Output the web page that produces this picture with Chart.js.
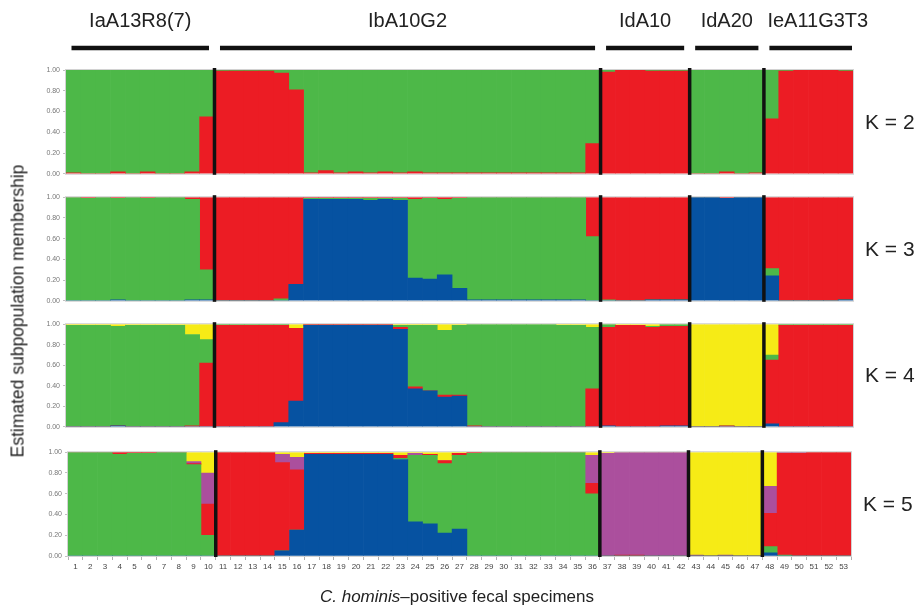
<!DOCTYPE html>
<html><head><meta charset="utf-8">
<script src="https://cdn.jsdelivr.net/npm/chart.js@4.4.1/dist/chart.umd.min.js"></script>
<style>
html,body{margin:0;padding:0;background:#fff;}
#wrap{position:relative;width:917px;height:609px;overflow:hidden;font-family:"Liberation Sans",Arial,sans-serif;background:#fff;}
#wrap canvas{position:absolute;left:0;}
#ytitle{position:absolute;left:18px;top:311px;transform:translate(-50%,-50%) rotate(-90deg);white-space:nowrap;font-size:17.5px;color:#222;}
#xtitle{position:absolute;left:457px;top:597px;transform:translate(-50%,-50%);white-space:nowrap;font-size:17px;color:#222;}
</style></head>
<body>
<div id="wrap">
  <canvas id="c0"></canvas><canvas id="c1"></canvas><canvas id="c2"></canvas><canvas id="c3"></canvas>
  <div id="ytitle">Estimated subpopulation membership</div>
  <div id="xtitle"><i>C. hominis</i>–positive fecal specimens</div>
</div>
<script>
// ---------- DATA ----------
const specimens = ['1','2','3','4','5','6','7','8','9','10','11','12','13','14','15','16','17','18','19','20','21','22','23','24','25','26','27','28','29','30','31','32','33','34','35','36','37','38','39','40','41','42','43','44','45','46','47','48','49','50','51','52','53'];
const groups = ['IaA13R8(7)','IbA10G2','IdA10','IdA20','IeA11G3T3'];
const groupSizes = [10,26,6,5,6];
const yTicks = [0,0.2,0.4,0.6,0.8,1.0];

// K = 2 (bottom -> top: red, green)
const red2   = [0.01,0,0,0.02,0,0.02,0,0,0.02,0.55, 0.99,0.99,0.99,0.99,0.97,0.81, 0.01,0.03,0.01,0.02,0.01,0.02,0.01,0.02,0.01,0.01,0.01,0.01,0.01,0.01,0.01,0.01,0.01,0.01,0.01,0.29, 0.98,1,1,0.99,0.99,0.99, 0,0,0.02,0,0.01, 0.53, 0.99,1,1,1,0.99];
const green2 = [0.99,1,1,0.98,1,0.98,1,1,0.98,0.45, 0.01,0.01,0.01,0.01,0.03,0.19, 0.99,0.97,0.99,0.98,0.99,0.98,0.99,0.98,0.99,0.99,0.99,0.99,0.99,0.99,0.99,0.99,0.99,0.99,0.99,0.71, 0.02,0,0,0.01,0.01,0.01, 1,1,0.98,1,0.99, 0.47, 0.01,0,0,0,0.01];

// K = 3 (bottom -> top: blue, green, red)
const blue3  = [0,0,0,0.01,0,0,0,0,0.01,0.01, 0,0,0,0,0,0.16, 0.98,0.98,0.98,0.98,0.97,0.98,0.97, 0.22,0.21,0.25,0.12, 0.01,0.01,0.01,0.01,0.01,0.01,0.01,0.01, 0, 0,0,0,0.01,0.01,0.01, 1,1,0.99,1,1, 0.24, 0,0,0,0,0.01];
const green3 = [1,0.99,1,0.98,1,0.99,1,1,0.97,0.29, 0,0,0,0,0.02,0, 0.01,0.01,0.01,0.01,0.02,0.01,0.02, 0.76,0.78,0.73,0.87, 0.99,0.99,0.99,0.99,0.99,0.99,0.99,0.99, 0.62, 0.01,0,0,0,0,0, 0,0,0,0,0, 0.07, 0,0,0,0,0];
const red3   = [0,0.01,0,0.01,0,0.01,0,0,0.02,0.70, 1,1,1,1,0.98,0.84, 0.01,0.01,0.01,0.01,0.01,0.01,0.01, 0.02,0.01,0.02,0.01, 0,0,0,0,0,0,0,0, 0.38, 0.99,1,1,0.99,0.99,0.99, 0,0,0.01,0,0, 0.69, 1,1,1,1,0.99];

// K = 4 (bottom -> top: blue, red, green, yellow)
const blue4   = [0,0,0,0.01,0,0,0,0,0,0, 0,0,0,0,0.04,0.25, 0.99,0.99,0.99,0.99,0.99,0.99,0.95, 0.37,0.35,0.29,0.30, 0,0,0,0,0,0,0,0, 0, 0.01,0,0,0,0.01,0.01, 0,0,0,0,0, 0.03, 0,0,0,0,0];
const red4    = [0,0,0,0,0,0,0,0,0.01,0.62, 0.99,0.99,0.99,0.99,0.95,0.71, 0.01,0.01,0.01,0.01,0.01,0.01,0.02, 0.02,0,0.02,0.01, 0.01,0,0,0,0,0,0,0, 0.37, 0.96,0.99,0.99,0.97,0.97,0.97, 0,0,0.01,0,0, 0.62, 0.99,0.99,0.99,0.99,0.99];
const green4  = [0.99,0.99,0.99,0.97,0.99,0.99,0.99,0.99,0.89,0.23, 0.01,0.01,0.01,0.01,0.01,0, 0,0,0,0,0,0,0.02, 0.60,0.64,0.63,0.68, 0.99,1,1,1,1,1,0.99,0.99, 0.60, 0.03,0,0,0.01,0.02,0.02, 0,0,0,0,0, 0.05, 0.01,0.01,0.01,0.01,0.01];
const yellow4 = [0.01,0.01,0.01,0.02,0.01,0.01,0.01,0.01,0.10,0.15, 0,0,0,0,0,0.04, 0,0,0,0,0,0,0.01, 0.01,0.01,0.06,0.01, 0,0,0,0,0,0,0.01,0.01, 0.03, 0,0.01,0.01,0.02,0,0, 1,1,0.99,1,1, 0.30, 0,0,0,0,0];

// K = 5 (bottom -> top: blue, green, red, purple, yellow)
const blue5   = [0,0,0,0,0,0,0,0,0,0, 0,0,0,0,0.05,0.25, 0.98,0.98,0.98,0.98,0.98,0.98,0.93, 0.33,0.31,0.22,0.26, 0,0,0,0,0,0,0,0, 0, 0,0,0,0,0,0, 0,0,0,0,0, 0.03, 0,0,0,0,0];
const green5  = [1,1,1,0.98,0.99,0.99,1,1,0.88,0.20, 0,0,0,0,0,0, 0,0,0,0,0,0,0.01, 0.64,0.66,0.67,0.71, 0.99,1,1,1,1,1,1,1, 0.60, 0,0,0,0,0,0, 0,0,0,0,0, 0.06, 0.01,0,0,0,0];
const red5    = [0,0,0,0.02,0.01,0.01,0,0,0.01,0.30, 1,1,1,1,0.85,0.58, 0.01,0.01,0.01,0.01,0.01,0.01,0.03, 0,0.01,0.03,0.02, 0.01,0,0,0,0,0,0,0, 0.10, 0,0.01,0.01,0,0,0, 0,0,0,0,0, 0.32, 0.98,0.99,1,1,1];
const purple5 = [0,0,0,0,0,0,0,0,0.02,0.30, 0,0,0,0,0.08,0.12, 0,0,0,0,0,0,0, 0.02,0,0,0, 0,0,0,0,0,0,0,0, 0.27, 0.99,0.99,0.99,1,1,1, 0.01,0,0.01,0,0, 0.26, 0.01,0.01,0,0,0];
const yellow5 = [0,0,0,0,0,0,0,0,0.09,0.20, 0,0,0,0,0.02,0.05, 0.01,0.01,0.01,0.01,0.01,0.01,0.03, 0.01,0.02,0.08,0.01, 0,0,0,0,0,0,0,0, 0.03, 0.01,0,0,0,0,0, 0.99,1,0.99,1,1, 0.33, 0,0,0,0,0];

// ---------- STYLE ----------
const GREEN = '#4db848', RED = '#ec1c24', BLUE = '#0652a1', YELLOW = '#f6eb16', PURPLE = '#ab4f9d';
const FONT = '"Liberation Sans", Arial, sans-serif';

const panels = [
  {k:2, series:[[red2,RED],[green2,GREEN]]},
  {k:3, series:[[blue3,BLUE],[green3,GREEN],[red3,RED]]},
  {k:4, series:[[blue4,BLUE],[red4,RED],[green4,GREEN],[yellow4,YELLOW]]},
  {k:5, series:[[blue5,BLUE],[green5,GREEN],[red5,RED],[purple5,PURPLE],[yellow5,YELLOW]]}
];
const boxes = [
  {top:70,  bottom:175, left:66, right:853, cTop:0,   cBottom:181, xAxis:false},
  {top:196, bottom:302, left:66, right:853, cTop:190, cBottom:308, xAxis:false},
  {top:323, bottom:428, left:66, right:853, cTop:317, cBottom:434, xAxis:false},
  {top:451, bottom:556, left:68, right:851, cTop:445, cBottom:588, xAxis:true}
];
const X_AXIS_H = 24;

function boundaries() {
  const b = []; let s = 0;
  for (let i = 0; i < groupSizes.length; i++) { b.push([s, s + groupSizes[i]]); s += groupSizes[i]; }
  return b;
}
function edgePx(xs, n) { // pixel of boundary after n bars
  if (n <= 0) return xs.left;
  if (n >= specimens.length) return xs.right;
  return (xs.getPixelForValue(n - 1) + xs.getPixelForValue(n)) / 2;
}

const decoPlugin = {
  id: 'deco',
  afterDatasetsDraw(chart, args, opts) {
    const ctx = chart.ctx, a = chart.chartArea, xs = chart.scales.x;
    ctx.save();
    ctx.strokeStyle = '#d2d2d2'; ctx.lineWidth = 1;
    ctx.strokeRect(a.left - 0.5, a.top - 0.5, a.right - a.left + 1, a.bottom - a.top + 1);
    ctx.strokeStyle = '#111'; ctx.lineWidth = 3.5;
    const bs = boundaries();
    for (let i = 1; i < bs.length; i++) {
      const x = edgePx(xs, bs[i][0]);
      ctx.beginPath(); ctx.moveTo(x, a.top - 2); ctx.lineTo(x, a.bottom + 1); ctx.stroke();
    }
    ctx.fillStyle = '#222'; ctx.font = '21px ' + FONT;
    ctx.textAlign = 'left'; ctx.textBaseline = 'middle';
    ctx.fillText('K = ' + opts.k, a.right + 12, (a.top + a.bottom) / 2 + 1);
    if (opts.header) {
      ctx.font = '20px ' + FONT; ctx.textBaseline = 'middle';
      ctx.lineWidth = 4.5; ctx.strokeStyle = '#111';
      bs.forEach((g, i) => {
        const x0 = edgePx(xs, g[0]) + 5.5, x1 = edgePx(xs, g[1]) - (i === bs.length - 1 ? 1 : 5.5);
        ctx.beginPath(); ctx.moveTo(x0, 48); ctx.lineTo(x1, 48); ctx.stroke();
        const w = ctx.measureText(groups[i]).width;
        const lx = Math.max((x0 + x1) / 2 - w / 2, x0 - 2);
        ctx.textAlign = 'left';
        ctx.fillText(groups[i], lx, 21);
      });
    }
    ctx.restore();
  }
};

panels.forEach((p, i) => {
  const b = boxes[i];
  const cv = document.getElementById('c' + i);
  const H = b.cBottom - b.cTop;
  cv.width = 917; cv.height = H;
  cv.style.top = b.cTop + 'px'; cv.style.width = '917px'; cv.style.height = H + 'px';
  const padTop = b.top - b.cTop;
  const padBottom = b.cBottom - b.bottom - (b.xAxis ? X_AXIS_H : 0);
  new Chart(cv, {
    type: 'bar',
    data: {
      labels: specimens,
      datasets: p.series.map(([d, c]) => ({
        data: d, backgroundColor: c, borderWidth: 0, stack: 's',
        barPercentage: 1, categoryPercentage: 1
      }))
    },
    options: {
      responsive: false, animation: false, devicePixelRatio: 1,
      layout: { padding: { left: 0, right: 917 - b.right, top: padTop, bottom: padBottom } },
      plugins: { legend: { display: false }, tooltip: { enabled: false },
                 deco: { k: p.k, header: i === 0 } },
      scales: {
        x: {
          type: 'category', stacked: true, offset: true, display: b.xAxis,
          grid: { offset: true, drawOnChartArea: false, tickLength: 4, color: '#b0b0b0' },
          border: { display: false },
          ticks: { autoSkip: false, maxRotation: 0, minRotation: 0, padding: 2,
                   font: { family: FONT, size: 8 }, color: '#444' },
          afterFit: s => { s.height = b.xAxis ? X_AXIS_H : 0; }
        },
        y: {
          stacked: true, min: 0, max: 1,
          afterBuildTicks: s => { s.ticks = yTicks.map(v => ({ value: v })); },
          ticks: { autoSkip: false, padding: 3, font: { family: FONT, size: 7 }, color: '#777',
                   callback: v => Number(v).toFixed(2) },
          grid: { drawOnChartArea: false, tickLength: 3, color: '#c0c0c0' },
          border: { color: '#d2d2d2' },
          afterFit: s => { s.width = b.left; }
        }
      }
    },
    plugins: [decoPlugin]
  });
});
</script>
</body></html>
